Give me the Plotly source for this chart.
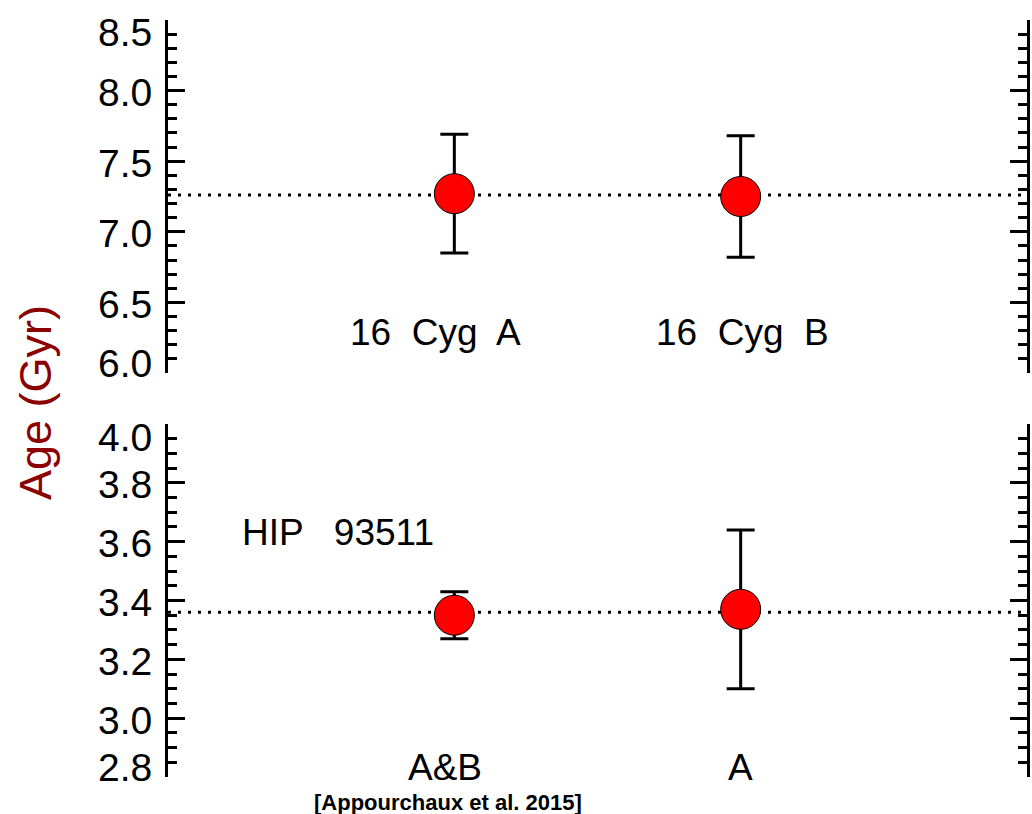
import plotly.graph_objects as go

# ---- data ----
top_names = ["16  Cyg  A", "16  Cyg  B"]
top_x = [1, 2]
top_age = [7.27, 7.25]
top_err = [0.42, 0.43]
top_mean = 7.26

bot_names = ["A&B", "A"]
bot_x = [1, 2]
bot_age = [3.35, 3.37]
bot_err = [0.08, 0.27]
bot_mean = 3.36

x_range = [0, 3]
top_range = [6.0, 8.5]
bot_range = [2.8, 4.0]
top_ticks = [6.0, 6.5, 7.0, 7.5, 8.0, 8.5]
bot_ticks = [2.8, 3.0, 3.2, 3.4, 3.6, 3.8, 4.0]

W, H = 1032, 814
FONT = "Liberation Sans"

fig = go.Figure()

# invisible traces so that the right-hand overlay axes get drawn
fig.add_trace(go.Scatter(x=x_range, y=top_range, mode="lines", opacity=0,
                         line=dict(width=0), xaxis="x", yaxis="y3",
                         showlegend=False, hoverinfo="skip"))
fig.add_trace(go.Scatter(x=x_range, y=bot_range, mode="lines", opacity=0,
                         line=dict(width=0), xaxis="x2", yaxis="y4",
                         showlegend=False, hoverinfo="skip"))

# dotted mean lines
fig.add_trace(go.Scatter(x=x_range, y=[top_mean, top_mean], mode="lines",
                         line=dict(color="black", width=3, dash="3px,7px"),
                         xaxis="x", yaxis="y", showlegend=False, hoverinfo="skip"))
fig.add_trace(go.Scatter(x=x_range, y=[bot_mean, bot_mean], mode="lines",
                         line=dict(color="black", width=3, dash="3px,7px"),
                         xaxis="x2", yaxis="y2", showlegend=False, hoverinfo="skip"))

marker = dict(size=40, color="#ff0000", line=dict(color="black", width=1))
fig.add_trace(go.Scatter(x=top_x, y=top_age, mode="markers", marker=marker,
                         error_y=dict(type="data", array=top_err, color="black",
                                      thickness=3, width=14),
                         xaxis="x", yaxis="y", showlegend=False))
fig.add_trace(go.Scatter(x=bot_x, y=bot_age, mode="markers", marker=marker,
                         error_y=dict(type="data", array=bot_err, color="black",
                                      thickness=3, width=14),
                         xaxis="x2", yaxis="y2", showlegend=False))

x0, x1 = 168 / W, 1027 / W
top_dom = [1 - 373 / H, 1 - 20 / H]
bot_dom = [1 - 777 / H, 1 - 424 / H]

xcommon = dict(range=x_range, showline=False, showticklabels=False, ticks="",
               showgrid=False, zeroline=False, domain=[x0, x1])

def yax(rng, ticks, dom, anchor, minor_dt, side="left", overlay=None):
    d = dict(range=rng, domain=dom, anchor=anchor, tickvals=ticks, side=side,
             showticklabels=False,
             showline=True, linecolor="black", linewidth=3,
             ticks="inside", ticklen=17, tickwidth=3, tickcolor="black",
             minor=dict(dtick=minor_dt, ticks="inside", ticklen=9, tickwidth=3,
                        tickcolor="black", showgrid=False),
             showgrid=False, zeroline=False)
    if overlay:
        d["overlaying"] = overlay
    return d

fig.update_layout(
    width=W, height=H, margin=dict(l=0, r=0, t=0, b=0, autoexpand=False),
    paper_bgcolor="white", plot_bgcolor="white",
    xaxis=dict(xcommon, anchor="y"),
    xaxis2=dict(xcommon, anchor="y2"),
    yaxis=yax(top_range, top_ticks, top_dom, "x", 0.1),
    yaxis2=yax(bot_range, bot_ticks, bot_dom, "x2", 0.05),
    yaxis3=yax(top_range, top_ticks, top_dom, "x", 0.1, side="right", overlay="y"),
    yaxis4=yax(bot_range, bot_ticks, bot_dom, "x2", 0.05, side="right", overlay="y2"),
)

ann = []
# tick labels (end labels nudged inward as in the reference)
for ticks, yref in ((top_ticks, "y"), (bot_ticks, "y2")):
    for i, t in enumerate(ticks):
        if i == 0:
            ys = 10
        elif i == len(ticks) - 1:
            ys = -13
        else:
            ys = -2
        ann.append(dict(x=x0, y=t, xref="paper", yref=yref, text=f"{t:.1f}",
                        xanchor="right", yanchor="middle", xshift=-14, yshift=ys,
                        showarrow=False,
                        font=dict(family=FONT, size=39, color="black")))

lab = []
lab.append(dict(x=0.933, y=6.29, xref="x", yref="y", text=top_names[0]))
lab.append(dict(x=2.005, y=6.29, xref="x", yref="y", text=top_names[1]))
lab.append(dict(x=0.967, y=2.834, xref="x2", yref="y2", text=bot_names[0]))
lab.append(dict(x=2.0, y=2.834, xref="x2", yref="y2", text=bot_names[1]))
lab.append(dict(x=0.592, y=3.63, xref="x2", yref="y2", text="HIP   93511"))
for a in lab:
    a.update(showarrow=False, font=dict(family=FONT, size=37, color="black"),
             xanchor="center", yanchor="middle")
ann += lab
ann.append(dict(x=35 / W, y=1 - 403 / H, xref="paper", yref="paper",
                text="Age (Gyr)", textangle=-90, showarrow=False,
                font=dict(family=FONT, size=45, color="#8b0000"),
                xanchor="center", yanchor="middle"))
ann.append(dict(x=448 / W, y=1 - 802 / H, xref="paper", yref="paper",
                text="<b>[Appourchaux et al. 2015]</b>", showarrow=False,
                font=dict(family=FONT, size=22, color="black"),
                xanchor="center", yanchor="middle"))
fig.update_layout(annotations=ann)

fig.write_html("out.html", config={"displayModeBar": False},
               post_script="document.body.style.margin='0';")
